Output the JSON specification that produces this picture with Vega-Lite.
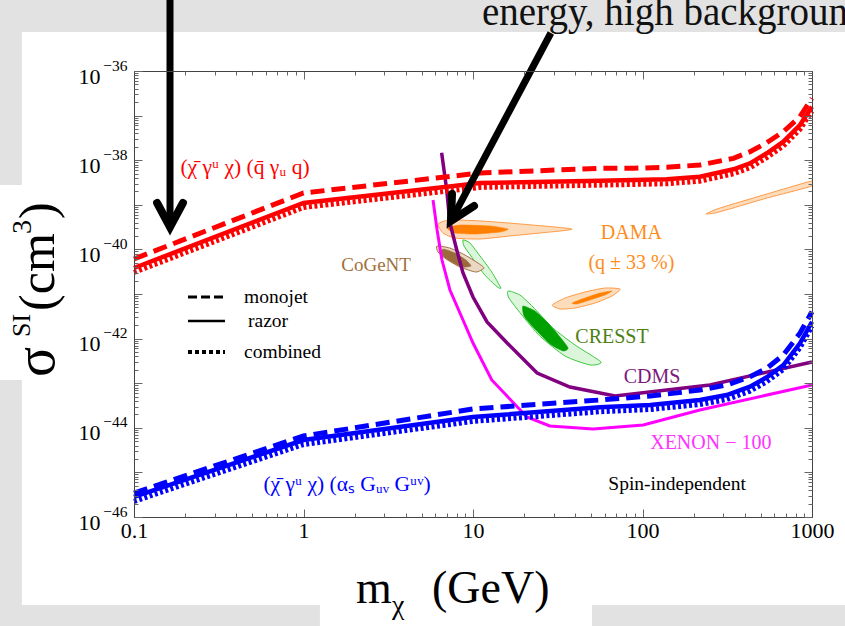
{
"$schema": "https://vega.github.io/schema/vega-lite/v6.json",
"width": 678, "height": 446,
"autosize": "none",
"padding": {"left": 134, "top": 71, "right": 33, "bottom": 109},
"background": "#e2e2e2",
"config": {
  "font": "Liberation Serif",
  "view": {"stroke": null},
  "axis": {"grid": false, "tickColor": "#666", "tickWidth": 1, "labelFont": "Liberation Serif", "labelColor": "#000", "labelFontSize": 22, "labelOverlap": false, "labelFlush": false, "labelBound": false, "domainColor": "#444", "domainWidth": 1}
},
"datasets": {
  "curves": [
    {"curve":"cdms","m":6.53,"sigma":1.47e-38},{"curve":"cdms","m":7.0,"sigma":2.15e-39},{"curve":"cdms","m":7.31,"sigma":3.91e-40},{"curve":"cdms","m":8.02,"sigma":9.7e-41},{"curve":"cdms","m":8.73,"sigma":2.96e-41},{"curve":"cdms","m":10,"sigma":8.57e-42},{"curve":"cdms","m":12.1,"sigma":2.36e-42},{"curve":"cdms","m":15.9,"sigma":7.96e-43},{"curve":"cdms","m":23.9,"sigma":1.69e-43},{"curve":"cdms","m":37.3,"sigma":8.22e-44},{"curve":"cdms","m":68.9,"sigma":5.16e-44},{"curve":"cdms","m":250,"sigma":9.12e-44},{"curve":"cdms","m":1000,"sigma":2.99e-43},
    {"curve":"xenon","m":5.81,"sigma":1.28e-39},{"curve":"xenon","m":6.14,"sigma":2.72e-40},{"curve":"xenon","m":6.56,"sigma":5.78e-41},{"curve":"xenon","m":7.31,"sigma":1.23e-41},{"curve":"xenon","m":8.73,"sigma":2.61e-42},{"curve":"xenon","m":10,"sigma":7.96e-43},{"curve":"xenon","m":12.9,"sigma":1.18e-43},{"curve":"xenon","m":20.8,"sigma":1.75e-44},{"curve":"xenon","m":28.4,"sigma":1.1e-44},{"curve":"xenon","m":51.1,"sigma":9.4e-45},{"curve":"xenon","m":101,"sigma":1.16e-44},{"curve":"xenon","m":218,"sigma":2.51e-44},{"curve":"xenon","m":1000,"sigma":9.12e-44},
    {"curve":"red_monojet","m":0.1,"sigma":6.1e-41},{"curve":"red_monojet","m":1,"sigma":1.84e-39},{"curve":"red_monojet","m":11,"sigma":5.16e-39},{"curve":"red_monojet","m":56.1,"sigma":6.58e-39},{"curve":"red_monojet","m":88.3,"sigma":6.6e-39},{"curve":"red_monojet","m":139,"sigma":6.93e-39},{"curve":"red_monojet","m":218,"sigma":7.8e-39},{"curve":"red_monojet","m":344,"sigma":1.1e-38},{"curve":"red_monojet","m":431,"sigma":1.55e-38},{"curve":"red_monojet","m":541,"sigma":2.47e-38},{"curve":"red_monojet","m":678,"sigma":4.36e-38},{"curve":"red_monojet","m":849,"sigma":9.44e-38},{"curve":"red_monojet","m":1000,"sigma":2.44e-37},
    {"curve":"red_razor","m":0.1,"sigma":3.83e-41},{"curve":"red_razor","m":1,"sigma":1.1e-39},{"curve":"red_razor","m":11,"sigma":3.08e-39},{"curve":"red_razor","m":56.1,"sigma":3.47e-39},{"curve":"red_razor","m":139,"sigma":3.73e-39},{"curve":"red_razor","m":218,"sigma":4.27e-39},{"curve":"red_razor","m":344,"sigma":6.25e-39},{"curve":"red_razor","m":431,"sigma":8.51e-39},{"curve":"red_razor","m":541,"sigma":1.43e-38},{"curve":"red_razor","m":678,"sigma":2.6e-38},{"curve":"red_razor","m":849,"sigma":6.15e-38},{"curve":"red_razor","m":1000,"sigma":1.58e-37},
    {"curve":"red_combined","m":0.1,"sigma":3.04e-41},{"curve":"red_combined","m":1,"sigma":8.7e-40},{"curve":"red_combined","m":11,"sigma":2.45e-39},{"curve":"red_combined","m":56.1,"sigma":2.76e-39},{"curve":"red_combined","m":139,"sigma":2.96e-39},{"curve":"red_combined","m":218,"sigma":3.39e-39},{"curve":"red_combined","m":344,"sigma":4.96e-39},{"curve":"red_combined","m":431,"sigma":6.76e-39},{"curve":"red_combined","m":541,"sigma":1.14e-38},{"curve":"red_combined","m":678,"sigma":2.07e-38},{"curve":"red_combined","m":849,"sigma":4.88e-38},{"curve":"red_combined","m":1000,"sigma":1.26e-37},
    {"curve":"blue_monojet","m":0.1,"sigma":3.45e-46},{"curve":"blue_monojet","m":1,"sigma":6.55e-45},{"curve":"blue_monojet","m":10,"sigma":2.64e-44},{"curve":"blue_monojet","m":56.1,"sigma":4.2e-44},{"curve":"blue_monojet","m":111,"sigma":5.16e-44},{"curve":"blue_monojet","m":218,"sigma":7.05e-44},{"curve":"blue_monojet","m":314,"sigma":9.12e-44},{"curve":"blue_monojet","m":431,"sigma":1.4e-43},{"curve":"blue_monojet","m":541,"sigma":2.16e-43},{"curve":"blue_monojet","m":678,"sigma":4.29e-43},{"curve":"blue_monojet","m":849,"sigma":1.32e-42},{"curve":"blue_monojet","m":1000,"sigma":4.01e-42},
    {"curve":"blue_razor","m":0.1,"sigma":2.81e-46},{"curve":"blue_razor","m":1,"sigma":5.32e-45},{"curve":"blue_razor","m":10,"sigma":1.75e-44},{"curve":"blue_razor","m":56.1,"sigma":2.88e-44},{"curve":"blue_razor","m":111,"sigma":3.24e-44},{"curve":"blue_razor","m":218,"sigma":4.2e-44},{"curve":"blue_razor","m":314,"sigma":5.43e-44},{"curve":"blue_razor","m":431,"sigma":8.36e-44},{"curve":"blue_razor","m":541,"sigma":1.36e-43},{"curve":"blue_razor","m":678,"sigma":2.56e-43},{"curve":"blue_razor","m":849,"sigma":7.83e-43},{"curve":"blue_razor","m":1000,"sigma":2.39e-42},
    {"curve":"blue_combined","m":0.1,"sigma":2.23e-46},{"curve":"blue_combined","m":1,"sigma":4.22e-45},{"curve":"blue_combined","m":10,"sigma":1.39e-44},{"curve":"blue_combined","m":56.1,"sigma":2.29e-44},{"curve":"blue_combined","m":111,"sigma":2.57e-44},{"curve":"blue_combined","m":218,"sigma":3.33e-44},{"curve":"blue_combined","m":314,"sigma":4.31e-44},{"curve":"blue_combined","m":431,"sigma":6.64e-44},{"curve":"blue_combined","m":541,"sigma":1.08e-43},{"curve":"blue_combined","m":678,"sigma":2.03e-43},{"curve":"blue_combined","m":849,"sigma":6.22e-43},{"curve":"blue_combined","m":1000,"sigma":1.9e-42}
  ],
  "blobs": [
    {"kind":"dama_out","shape":"d1","i":0,"m":6.22,"sigma":3.72e-40},{"kind":"dama_out","shape":"d1","i":1,"m":7.31,"sigma":4.56e-40},{"kind":"dama_out","shape":"d1","i":2,"m":11.0,"sigma":4.34e-40},{"kind":"dama_out","shape":"d1","i":3,"m":18.9,"sigma":3.72e-40},{"kind":"dama_out","shape":"d1","i":4,"m":38.4,"sigma":2.86e-40},{"kind":"dama_out","shape":"d1","i":5,"m":24.8,"sigma":2.33e-40},{"kind":"dama_out","shape":"d1","i":6,"m":16.5,"sigma":2.0e-40},{"kind":"dama_out","shape":"d1","i":7,"m":11.0,"sigma":1.71e-40},{"kind":"dama_out","shape":"d1","i":8,"m":7.83,"sigma":1.8e-40},{"kind":"dama_out","shape":"d1","i":9,"m":6.65,"sigma":2.33e-40},
    {"kind":"dama_out","shape":"d2","i":0,"m":29.3,"sigma":5.66e-42},{"kind":"dama_out","shape":"d2","i":1,"m":34.9,"sigma":8.13e-42},{"kind":"dama_out","shape":"d2","i":2,"m":45.8,"sigma":1.11e-41},{"kind":"dama_out","shape":"d2","i":3,"m":60.1,"sigma":1.36e-41},{"kind":"dama_out","shape":"d2","i":4,"m":73.7,"sigma":1.29e-41},{"kind":"dama_out","shape":"d2","i":5,"m":66.1,"sigma":9.02e-42},{"kind":"dama_out","shape":"d2","i":6,"m":52.5,"sigma":6.28e-42},{"kind":"dama_out","shape":"d2","i":7,"m":40.0,"sigma":4.85e-42},{"kind":"dama_out","shape":"d2","i":8,"m":32.6,"sigma":4.61e-42},
    {"kind":"dama_out","shape":"d3","i":0,"m":237,"sigma":6.22e-40},{"kind":"dama_out","shape":"d3","i":1,"m":268,"sigma":6.55e-40},{"kind":"dama_out","shape":"d3","i":2,"m":342,"sigma":8.47e-40},{"kind":"dama_out","shape":"d3","i":3,"m":543,"sigma":1.42e-39},{"kind":"dama_out","shape":"d3","i":4,"m":1000,"sigma":2.64e-39},{"kind":"dama_out","shape":"d3","i":5,"m":1000,"sigma":3.42e-39},{"kind":"dama_out","shape":"d3","i":6,"m":543,"sigma":1.75e-39},{"kind":"dama_out","shape":"d3","i":7,"m":342,"sigma":1.04e-39},{"kind":"dama_out","shape":"d3","i":8,"m":275,"sigma":8.05e-40},{"kind":"dama_out","shape":"d3","i":9,"m":250,"sigma":6.9e-40},
    {"kind":"dama_in","shape":"d1in","i":0,"m":7.03,"sigma":3.02e-40},{"kind":"dama_in","shape":"d1in","i":1,"m":8.38,"sigma":3.52e-40},{"kind":"dama_in","shape":"d1in","i":2,"m":12.6,"sigma":3.35e-40},{"kind":"dama_in","shape":"d1in","i":3,"m":16.1,"sigma":2.86e-40},{"kind":"dama_in","shape":"d1in","i":4,"m":14.4,"sigma":2.45e-40},{"kind":"dama_in","shape":"d1in","i":5,"m":10.3,"sigma":2.21e-40},{"kind":"dama_in","shape":"d1in","i":6,"m":7.83,"sigma":2.33e-40},
    {"kind":"dama_in","shape":"d2in","i":0,"m":38.4,"sigma":6.28e-42},{"kind":"dama_in","shape":"d2in","i":1,"m":45.8,"sigma":8.13e-42},{"kind":"dama_in","shape":"d2in","i":2,"m":56.1,"sigma":1.05e-41},{"kind":"dama_in","shape":"d2in","i":3,"m":66.1,"sigma":1.17e-41},{"kind":"dama_in","shape":"d2in","i":4,"m":60.1,"sigma":9.5e-42},{"kind":"dama_in","shape":"d2in","i":5,"m":49.0,"sigma":7.33e-42},{"kind":"dama_in","shape":"d2in","i":6,"m":41.1,"sigma":5.97e-42},
    {"kind":"cogent_out","shape":"g1","i":0,"m":6.13,"sigma":1.19e-40},{"kind":"cogent_out","shape":"g1","i":1,"m":7.31,"sigma":1.07e-40},{"kind":"cogent_out","shape":"g1","i":2,"m":8.97,"sigma":7.48e-41},{"kind":"cogent_out","shape":"g1","i":3,"m":10.7,"sigma":4.95e-41},{"kind":"cogent_out","shape":"g1","i":4,"m":11.6,"sigma":3.83e-41},{"kind":"cogent_out","shape":"g1","i":5,"m":10.4,"sigma":3.11e-41},{"kind":"cogent_out","shape":"g1","i":6,"m":8.38,"sigma":4.03e-41},{"kind":"cogent_out","shape":"g1","i":7,"m":6.93,"sigma":6.1e-41},{"kind":"cogent_out","shape":"g1","i":8,"m":6.22,"sigma":8.75e-41},
    {"kind":"cogent_in","shape":"g1in","i":0,"m":6.65,"sigma":1.02e-40},{"kind":"cogent_in","shape":"g1in","i":1,"m":7.83,"sigma":8.3e-41},{"kind":"cogent_in","shape":"g1in","i":2,"m":9.09,"sigma":5.78e-41},{"kind":"cogent_in","shape":"g1in","i":3,"m":9.73,"sigma":4.25e-41},{"kind":"cogent_in","shape":"g1in","i":4,"m":8.61,"sigma":4.03e-41},{"kind":"cogent_in","shape":"g1in","i":5,"m":7.31,"sigma":5.5e-41},{"kind":"cogent_in","shape":"g1in","i":6,"m":6.56,"sigma":7.48e-41},
    {"kind":"cresst_out","shape":"c1","i":0,"m":8.73,"sigma":1.63e-40},{"kind":"cresst_out","shape":"c1","i":1,"m":9.6,"sigma":1.39e-40},{"kind":"cresst_out","shape":"c1","i":2,"m":11.0,"sigma":7.11e-41},{"kind":"cresst_out","shape":"c1","i":3,"m":12.9,"sigma":3.11e-41},{"kind":"cresst_out","shape":"c1","i":4,"m":14.6,"sigma":1.36e-41},{"kind":"cresst_out","shape":"c1","i":5,"m":13.7,"sigma":1.51e-41},{"kind":"cresst_out","shape":"c1","i":6,"m":11.6,"sigma":2.81e-41},{"kind":"cresst_out","shape":"c1","i":7,"m":9.73,"sigma":7.11e-41},{"kind":"cresst_out","shape":"c1","i":8,"m":8.85,"sigma":1.19e-40},
    {"kind":"cresst_out","shape":"c2","i":0,"m":16.1,"sigma":1.17e-41},{"kind":"cresst_out","shape":"c2","i":1,"m":18.9,"sigma":9.5e-42},{"kind":"cresst_out","shape":"c2","i":2,"m":22.6,"sigma":5.12e-42},{"kind":"cresst_out","shape":"c2","i":3,"m":29.6,"sigma":1.73e-42},{"kind":"cresst_out","shape":"c2","i":4,"m":40.0,"sigma":7.19e-43},{"kind":"cresst_out","shape":"c2","i":5,"m":56.9,"sigma":2.99e-43},{"kind":"cresst_out","shape":"c2","i":6,"m":49.0,"sigma":2.56e-43},{"kind":"cresst_out","shape":"c2","i":7,"m":34.9,"sigma":4.07e-43},{"kind":"cresst_out","shape":"c2","i":8,"m":24.8,"sigma":1.14e-42},{"kind":"cresst_out","shape":"c2","i":9,"m":19.2,"sigma":3.56e-42},{"kind":"cresst_out","shape":"c2","i":10,"m":16.3,"sigma":8.13e-42},
    {"kind":"cresst_in","shape":"c2in","i":0,"m":19.7,"sigma":5.38e-42},{"kind":"cresst_in","shape":"c2in","i":1,"m":23.2,"sigma":4.16e-42},{"kind":"cresst_in","shape":"c2in","i":2,"m":27.7,"sigma":2.24e-42},{"kind":"cresst_in","shape":"c2in","i":3,"m":32.6,"sigma":1.09e-42},{"kind":"cresst_in","shape":"c2in","i":4,"m":36.4,"sigma":6.15e-43},{"kind":"cresst_in","shape":"c2in","i":5,"m":34.0,"sigma":5.27e-43},{"kind":"cresst_in","shape":"c2in","i":6,"m":28.5,"sigma":7.57e-43},{"kind":"cresst_in","shape":"c2in","i":7,"m":22.9,"sigma":1.73e-42},{"kind":"cresst_in","shape":"c2in","i":8,"m":20.0,"sigma":3.21e-42}
  ],
  "arrows": [
    {"part":"v_shaft","i":0,"m":0.1631,"sigma":1e-34},{"part":"v_shaft","i":1,"m":0.1631,"sigma":3.18e-40},
    {"part":"v_head","i":0,"m":0.1368,"sigma":1.1e-39},{"part":"v_head","i":1,"m":0.1631,"sigma":3.18e-40},{"part":"v_head","i":2,"m":0.1945,"sigma":1.1e-39},
    {"part":"d_shaft","i":0,"m":28.8,"sigma":7.11e-36},{"part":"d_shaft","i":1,"m":7.41,"sigma":4.34e-40},
    {"part":"d_head","i":0,"m":7.52,"sigma":1.75e-39},{"part":"d_head","i":1,"m":7.41,"sigma":4.34e-40},{"part":"d_head","i":2,"m":10.14,"sigma":9.4e-40}
  ],
  "legend": [
    {"style":"monojet","m":0.2083,"sigma":8.57e-42},{"style":"monojet","m":0.3441,"sigma":8.57e-42},
    {"style":"razor","m":0.2083,"sigma":2.48e-42},{"style":"razor","m":0.3441,"sigma":2.48e-42},
    {"style":"combined","m":0.2083,"sigma":5.01e-43},{"style":"combined","m":0.3441,"sigma":5.01e-43}
  ]
},
"resolve": {"scale": {"x": "shared", "y": "shared"}, "axis": {"x": "independent", "y": "independent"}},
"layer": [
  {
    "data": {"values": [
      {"m": 0.0218, "m2": 2000, "sigma": 7.48e-36, "sigma2": 1.06e-48},
      {"m": 0.0141, "m2": 0.229, "sigma": 2.78e-39, "sigma2": 1.18e-43},
      {"m": 1.25, "m2": 50.4, "sigma": 1.09e-47, "sigma2": 1.75e-49}
    ]},
    "mark": {"type": "rect", "fill": "#ffffff", "stroke": null},
    "encoding": {
      "x": {"field": "m", "type": "quantitative", "scale": {"type": "log", "domain": [0.1, 1000], "nice": false}, "axis": null},
      "x2": {"field": "m2"},
      "y": {"field": "sigma", "type": "quantitative", "scale": {"type": "log", "domain": [1e-46, 1e-36], "nice": false}, "axis": null},
      "y2": {"field": "sigma2"}
    }
  },
  {
    "data": {"name": "blobs"},
    "transform": [{"filter": "datum.kind == 'dama_out'"}],
    "mark": {"type": "line", "interpolate": "cardinal-closed", "tension": 0.4, "fill": "#fddcbc", "stroke": "#ff9a45", "strokeWidth": 1, "clip": true},
    "encoding": {
      "x": {"field": "m", "type": "quantitative", "scale": {"type": "log", "domain": [0.1, 1000], "nice": false}, "axis": null},
      "y": {"field": "sigma", "type": "quantitative", "scale": {"type": "log", "domain": [1e-46, 1e-36], "nice": false}, "axis": null},
      "detail": {"field": "shape"},
      "order": {"field": "i", "type": "quantitative"}
    }
  },
  {
    "data": {"name": "blobs"},
    "transform": [{"filter": "datum.kind == 'dama_in'"}],
    "mark": {"type": "line", "interpolate": "cardinal-closed", "tension": 0.4, "fill": "#ff8000", "stroke": "#ff8000", "strokeWidth": 0.5},
    "encoding": {
      "x": {"field": "m", "type": "quantitative", "scale": {"type": "log", "domain": [0.1, 1000], "nice": false}, "axis": null},
      "y": {"field": "sigma", "type": "quantitative", "scale": {"type": "log", "domain": [1e-46, 1e-36], "nice": false}, "axis": null},
      "detail": {"field": "shape"},
      "order": {"field": "i", "type": "quantitative"}
    }
  },
  {
    "data": {"name": "blobs"},
    "transform": [{"filter": "datum.kind == 'cresst_out'"}],
    "mark": {"type": "line", "interpolate": "cardinal-closed", "tension": 0.4, "fill": "#dcf6dc", "stroke": "#3cc83c", "strokeWidth": 1},
    "encoding": {
      "x": {"field": "m", "type": "quantitative", "scale": {"type": "log", "domain": [0.1, 1000], "nice": false}, "axis": null},
      "y": {"field": "sigma", "type": "quantitative", "scale": {"type": "log", "domain": [1e-46, 1e-36], "nice": false}, "axis": null},
      "detail": {"field": "shape"},
      "order": {"field": "i", "type": "quantitative"}
    }
  },
  {
    "data": {"name": "blobs"},
    "transform": [{"filter": "datum.kind == 'cresst_in'"}],
    "mark": {"type": "line", "interpolate": "cardinal-closed", "tension": 0.4, "fill": "#00a000", "stroke": "#00a000", "strokeWidth": 0.5},
    "encoding": {
      "x": {"field": "m", "type": "quantitative", "scale": {"type": "log", "domain": [0.1, 1000], "nice": false}, "axis": null},
      "y": {"field": "sigma", "type": "quantitative", "scale": {"type": "log", "domain": [1e-46, 1e-36], "nice": false}, "axis": null},
      "detail": {"field": "shape"},
      "order": {"field": "i", "type": "quantitative"}
    }
  },
  {
    "data": {"name": "blobs"},
    "transform": [{"filter": "datum.kind == 'cogent_out'"}],
    "mark": {"type": "line", "interpolate": "cardinal-closed", "tension": 0.4, "fill": "#ead7c4", "stroke": "#a0703c", "strokeWidth": 1},
    "encoding": {
      "x": {"field": "m", "type": "quantitative", "scale": {"type": "log", "domain": [0.1, 1000], "nice": false}, "axis": null},
      "y": {"field": "sigma", "type": "quantitative", "scale": {"type": "log", "domain": [1e-46, 1e-36], "nice": false}, "axis": null},
      "detail": {"field": "shape"},
      "order": {"field": "i", "type": "quantitative"}
    }
  },
  {
    "data": {"name": "blobs"},
    "transform": [{"filter": "datum.kind == 'cogent_in'"}],
    "mark": {"type": "line", "interpolate": "cardinal-closed", "tension": 0.4, "fill": "#9b6a3a", "stroke": "#9b6a3a", "strokeWidth": 0.5},
    "encoding": {
      "x": {"field": "m", "type": "quantitative", "scale": {"type": "log", "domain": [0.1, 1000], "nice": false}, "axis": null},
      "y": {"field": "sigma", "type": "quantitative", "scale": {"type": "log", "domain": [1e-46, 1e-36], "nice": false}, "axis": null},
      "detail": {"field": "shape"},
      "order": {"field": "i", "type": "quantitative"}
    }
  },
  {
    "data": {"name": "curves"},
    "transform": [{"filter": "datum.curve == 'xenon'"}],
    "mark": {"type": "line", "color": "#ff00ff", "strokeWidth": 3},
    "encoding": {
      "x": {"field": "m", "type": "quantitative", "scale": {"type": "log", "domain": [0.1, 1000], "nice": false}, "axis": null},
      "y": {"field": "sigma", "type": "quantitative", "scale": {"type": "log", "domain": [1e-46, 1e-36], "nice": false}, "axis": null}
    }
  },
  {
    "data": {"name": "curves"},
    "transform": [{"filter": "datum.curve == 'cdms'"}],
    "mark": {"type": "line", "color": "#800080", "strokeWidth": 3.5},
    "encoding": {
      "x": {"field": "m", "type": "quantitative", "scale": {"type": "log", "domain": [0.1, 1000], "nice": false}, "axis": null},
      "y": {"field": "sigma", "type": "quantitative", "scale": {"type": "log", "domain": [1e-46, 1e-36], "nice": false}, "axis": null}
    }
  },
  {
    "data": {"name": "curves"},
    "transform": [{"filter": "datum.curve == 'red_combined'"}],
    "mark": {"type": "line", "color": "#ff0000", "strokeWidth": 5, "strokeDash": [3, 2.5]},
    "encoding": {
      "x": {"field": "m", "type": "quantitative", "scale": {"type": "log", "domain": [0.1, 1000], "nice": false},
            "axis": {"orient": "bottom", "zindex": 2, "domain": true, "title": null, "values": [0.1, 1, 10, 100, 1000], "tickSize": -8, "labelPadding": 11, "labelFontSize": 22, "labelExpr": "'' + datum.value"}},
      "y": {"field": "sigma", "type": "quantitative", "scale": {"type": "log", "domain": [1e-46, 1e-36], "nice": false},
            "axis": {"orient": "left", "zindex": 2, "domain": true, "title": null, "values": [1e-46, 1e-45, 1e-44, 1e-43, 1e-42, 1e-41, 1e-40, 1e-39, 1e-38, 1e-37, 1e-36], "tickSize": -8, "labelPadding": 42, "labelOffset": 5, "labelFontSize": 22,
                     "labelExpr": "round(log(datum.value)/LN10) % 2 == 0 ? '10' : ''"}}
    }
  },
  {
    "data": {"name": "curves"},
    "transform": [{"filter": "datum.curve == 'red_razor'"}],
    "mark": {"type": "line", "color": "#ff0000", "strokeWidth": 4.5},
    "encoding": {
      "x": {"field": "m", "type": "quantitative", "scale": {"type": "log", "domain": [0.1, 1000], "nice": false},
            "axis": {"orient": "bottom", "zindex": 2, "domain": false, "title": null, "values": [0.2,0.3,0.4,0.5,0.6,0.7,0.8,0.9,2,3,4,5,6,7,8,9,20,30,40,50,60,70,80,90,200,300,400,500,600,700,800,900], "tickSize": -4, "labels": false}},
      "y": {"field": "sigma", "type": "quantitative", "scale": {"type": "log", "domain": [1e-46, 1e-36], "nice": false},
            "axis": {"orient": "left", "zindex": 2, "domain": false, "title": null, "values": [2e-46,3e-46,4e-46,5e-46,6e-46,7e-46,8e-46,9e-46,2e-45,3e-45,4e-45,5e-45,6e-45,7e-45,8e-45,9e-45,2e-44,3e-44,4e-44,5e-44,6e-44,7e-44,8e-44,9e-44,2e-43,3e-43,4e-43,5e-43,6e-43,7e-43,8e-43,9e-43,2e-42,3e-42,4e-42,5e-42,6e-42,7e-42,8e-42,9e-42,2e-41,3e-41,4e-41,5e-41,6e-41,7e-41,8e-41,9e-41,2e-40,3e-40,4e-40,5e-40,6e-40,7e-40,8e-40,9e-40,2e-39,3e-39,4e-39,5e-39,6e-39,7e-39,8e-39,9e-39,2e-38,3e-38,4e-38,5e-38,6e-38,7e-38,8e-38,9e-38,2e-37,3e-37,4e-37,5e-37,6e-37,7e-37,8e-37,9e-37], "tickSize": -4, "labels": false}}
    }
  },
  {
    "data": {"name": "curves"},
    "transform": [{"filter": "datum.curve == 'red_monojet'"}],
    "mark": {"type": "line", "color": "#ff0000", "strokeWidth": 5, "strokeDash": [14, 7]},
    "encoding": {
      "x": {"field": "m", "type": "quantitative", "scale": {"type": "log", "domain": [0.1, 1000], "nice": false},
            "axis": {"orient": "top", "zindex": 2, "domain": true, "title": null, "values": [0.1, 1, 10, 100, 1000], "tickSize": -8, "labels": false}},
      "y": {"field": "sigma", "type": "quantitative", "scale": {"type": "log", "domain": [1e-46, 1e-36], "nice": false},
            "axis": {"orient": "right", "zindex": 2, "domain": true, "title": null, "values": [1e-46, 1e-45, 1e-44, 1e-43, 1e-42, 1e-41, 1e-40, 1e-39, 1e-38, 1e-37, 1e-36], "tickSize": -8, "labels": false}}
    }
  },
  {
    "data": {"name": "curves"},
    "transform": [{"filter": "datum.curve == 'blue_combined'"}],
    "mark": {"type": "line", "color": "#0000ff", "strokeWidth": 5, "strokeDash": [3, 2.5]},
    "encoding": {
      "x": {"field": "m", "type": "quantitative", "scale": {"type": "log", "domain": [0.1, 1000], "nice": false},
            "axis": {"orient": "top", "zindex": 2, "domain": false, "title": null, "values": [0.2,0.3,0.4,0.5,0.6,0.7,0.8,0.9,2,3,4,5,6,7,8,9,20,30,40,50,60,70,80,90,200,300,400,500,600,700,800,900], "tickSize": -4, "labels": false}},
      "y": {"field": "sigma", "type": "quantitative", "scale": {"type": "log", "domain": [1e-46, 1e-36], "nice": false},
            "axis": {"orient": "right", "zindex": 2, "domain": false, "title": null, "values": [2e-46,3e-46,4e-46,5e-46,6e-46,7e-46,8e-46,9e-46,2e-45,3e-45,4e-45,5e-45,6e-45,7e-45,8e-45,9e-45,2e-44,3e-44,4e-44,5e-44,6e-44,7e-44,8e-44,9e-44,2e-43,3e-43,4e-43,5e-43,6e-43,7e-43,8e-43,9e-43,2e-42,3e-42,4e-42,5e-42,6e-42,7e-42,8e-42,9e-42,2e-41,3e-41,4e-41,5e-41,6e-41,7e-41,8e-41,9e-41,2e-40,3e-40,4e-40,5e-40,6e-40,7e-40,8e-40,9e-40,2e-39,3e-39,4e-39,5e-39,6e-39,7e-39,8e-39,9e-39,2e-38,3e-38,4e-38,5e-38,6e-38,7e-38,8e-38,9e-38,2e-37,3e-37,4e-37,5e-37,6e-37,7e-37,8e-37,9e-37], "tickSize": -4, "labels": false}}
    }
  },
  {
    "data": {"name": "curves"},
    "transform": [{"filter": "datum.curve == 'blue_razor'"}],
    "mark": {"type": "line", "color": "#0000ff", "strokeWidth": 4.5},
    "encoding": {
      "x": {"field": "m", "type": "quantitative", "scale": {"type": "log", "domain": [0.1, 1000], "nice": false}, "axis": null},
      "y": {"field": "sigma", "type": "quantitative", "scale": {"type": "log", "domain": [1e-46, 1e-36], "nice": false},
            "axis": {"orient": "left", "zindex": 2, "domain": false, "ticks": false, "title": null, "values": [1e-46, 1e-44, 1e-42, 1e-40, 1e-38, 1e-36], "labelPadding": 7, "labelOffset": -6, "labelFontSize": 15.5,
                     "labelExpr": "'−' + toString(-round(log(datum.value)/LN10))"}}
    }
  },
  {
    "data": {"name": "curves"},
    "transform": [{"filter": "datum.curve == 'blue_monojet'"}],
    "mark": {"type": "line", "color": "#0000ff", "strokeWidth": 5, "strokeDash": [14, 7]},
    "encoding": {
      "x": {"field": "m", "type": "quantitative", "scale": {"type": "log", "domain": [0.1, 1000], "nice": false}, "axis": null},
      "y": {"field": "sigma", "type": "quantitative", "scale": {"type": "log", "domain": [1e-46, 1e-36], "nice": false}, "axis": null}
    }
  },
  {
    "data": {"name": "legend"},
    "transform": [{"filter": "datum.style == 'monojet'"}],
    "mark": {"type": "line", "color": "#000", "strokeWidth": 3, "strokeDash": [9, 4]},
    "encoding": {
      "x": {"field": "m", "type": "quantitative", "scale": {"type": "log", "domain": [0.1, 1000], "nice": false}, "axis": null},
      "y": {"field": "sigma", "type": "quantitative", "scale": {"type": "log", "domain": [1e-46, 1e-36], "nice": false}, "axis": null}
    }
  },
  {
    "data": {"name": "legend"},
    "transform": [{"filter": "datum.style == 'razor'"}],
    "mark": {"type": "line", "color": "#000", "strokeWidth": 2.5},
    "encoding": {
      "x": {"field": "m", "type": "quantitative", "scale": {"type": "log", "domain": [0.1, 1000], "nice": false}, "axis": null},
      "y": {"field": "sigma", "type": "quantitative", "scale": {"type": "log", "domain": [1e-46, 1e-36], "nice": false}, "axis": null}
    }
  },
  {
    "data": {"name": "legend"},
    "transform": [{"filter": "datum.style == 'combined'"}],
    "mark": {"type": "line", "color": "#000", "strokeWidth": 4, "strokeDash": [4, 3]},
    "encoding": {
      "x": {"field": "m", "type": "quantitative", "scale": {"type": "log", "domain": [0.1, 1000], "nice": false}, "axis": null},
      "y": {"field": "sigma", "type": "quantitative", "scale": {"type": "log", "domain": [1e-46, 1e-36], "nice": false}, "axis": null}
    }
  },
  {
    "data": {"values": [{"label": "monojet", "m": 0.446, "sigma": 8.57e-42}, {"label": "razor", "m": 0.4707, "sigma": 2.48e-42}, {"label": "combined", "m": 0.446, "sigma": 5.01e-43}]},
    "mark": {"type": "text", "align": "left", "baseline": "middle", "fontSize": 19.5, "color": "#000"},
    "encoding": {
      "x": {"field": "m", "type": "quantitative", "scale": {"type": "log", "domain": [0.1, 1000], "nice": false}, "axis": null},
      "y": {"field": "sigma", "type": "quantitative", "scale": {"type": "log", "domain": [1e-46, 1e-36], "nice": false}, "axis": null},
      "text": {"field": "label"}
    }
  },
  {
    "data": {"values": [{"label": "DAMA", "m": 86, "sigma": 2.33e-40}, {"label": "(q ± 33 %)", "m": 86, "sigma": 4.95e-41}]},
    "mark": {"type": "text", "align": "center", "baseline": "middle", "fontSize": 20, "color": "#ff8c1a"},
    "encoding": {
      "x": {"field": "m", "type": "quantitative", "scale": {"type": "log", "domain": [0.1, 1000], "nice": false}, "axis": null},
      "y": {"field": "sigma", "type": "quantitative", "scale": {"type": "log", "domain": [1e-46, 1e-36], "nice": false}, "axis": null},
      "text": {"field": "label"}
    }
  },
  {
    "data": {"values": [{"label": "CoGeNT", "m": 2.68, "sigma": 4.47e-41}]},
    "mark": {"type": "text", "align": "center", "baseline": "middle", "fontSize": 19, "color": "#a0703c"},
    "encoding": {
      "x": {"field": "m", "type": "quantitative", "scale": {"type": "log", "domain": [0.1, 1000], "nice": false}, "axis": null},
      "y": {"field": "sigma", "type": "quantitative", "scale": {"type": "log", "domain": [1e-46, 1e-36], "nice": false}, "axis": null},
      "text": {"field": "label"}
    }
  },
  {
    "data": {"values": [{"label": "CRESST", "m": 66.1, "sigma": 1.09e-42}]},
    "mark": {"type": "text", "align": "center", "baseline": "middle", "fontSize": 20, "color": "#4d7f15"},
    "encoding": {
      "x": {"field": "m", "type": "quantitative", "scale": {"type": "log", "domain": [0.1, 1000], "nice": false}, "axis": null},
      "y": {"field": "sigma", "type": "quantitative", "scale": {"type": "log", "domain": [1e-46, 1e-36], "nice": false}, "axis": null},
      "text": {"field": "label"}
    }
  },
  {
    "data": {"values": [{"label": "CDMS", "m": 113.8, "sigma": 1.38e-43}]},
    "mark": {"type": "text", "align": "center", "baseline": "middle", "fontSize": 20, "color": "#7b1a7b"},
    "encoding": {
      "x": {"field": "m", "type": "quantitative", "scale": {"type": "log", "domain": [0.1, 1000], "nice": false}, "axis": null},
      "y": {"field": "sigma", "type": "quantitative", "scale": {"type": "log", "domain": [1e-46, 1e-36], "nice": false}, "axis": null},
      "text": {"field": "label"}
    }
  },
  {
    "data": {"values": [{"label": "XENON − 100", "m": 253, "sigma": 4.56e-45}]},
    "mark": {"type": "text", "align": "center", "baseline": "middle", "fontSize": 20, "color": "#ff33ff"},
    "encoding": {
      "x": {"field": "m", "type": "quantitative", "scale": {"type": "log", "domain": [0.1, 1000], "nice": false}, "axis": null},
      "y": {"field": "sigma", "type": "quantitative", "scale": {"type": "log", "domain": [1e-46, 1e-36], "nice": false}, "axis": null},
      "text": {"field": "label"}
    }
  },
  {
    "data": {"values": [{"label": "Spin-independent", "m": 160, "sigma": 5.5e-46}]},
    "mark": {"type": "text", "align": "center", "baseline": "middle", "fontSize": 19.5, "color": "#000"},
    "encoding": {
      "x": {"field": "m", "type": "quantitative", "scale": {"type": "log", "domain": [0.1, 1000], "nice": false}, "axis": null},
      "y": {"field": "sigma", "type": "quantitative", "scale": {"type": "log", "domain": [1e-46, 1e-36], "nice": false}, "axis": null},
      "text": {"field": "label"}
    }
  },
  {
    "data": {"values": [{"label": "(χ̄ γᵘ χ) (q̄ γᵤ q)", "m": 0.452, "sigma": 6.68e-39}]},
    "mark": {"type": "text", "align": "center", "baseline": "middle", "fontSize": 21.5, "color": "#ff0000"},
    "encoding": {
      "x": {"field": "m", "type": "quantitative", "scale": {"type": "log", "domain": [0.1, 1000], "nice": false}, "axis": null},
      "y": {"field": "sigma", "type": "quantitative", "scale": {"type": "log", "domain": [1e-46, 1e-36], "nice": false}, "axis": null},
      "text": {"field": "label"}
    }
  },
  {
    "data": {"values": [{"label": "(χ̄ γᵘ χ) (αₛ Gᵤᵥ Gᵘᵛ)", "m": 1.806, "sigma": 5.21e-46}]},
    "mark": {"type": "text", "align": "center", "baseline": "middle", "fontSize": 21.5, "color": "#0000ff"},
    "encoding": {
      "x": {"field": "m", "type": "quantitative", "scale": {"type": "log", "domain": [0.1, 1000], "nice": false}, "axis": null},
      "y": {"field": "sigma", "type": "quantitative", "scale": {"type": "log", "domain": [1e-46, 1e-36], "nice": false}, "axis": null},
      "text": {"field": "label"}
    }
  },
  {
    "data": {"name": "arrows"},
    "transform": [{"filter": "datum.part == 'v_shaft' || datum.part == 'd_shaft'"}],
    "mark": {"type": "line", "color": "#000", "strokeWidth": 7, "strokeCap": "butt"},
    "encoding": {
      "x": {"field": "m", "type": "quantitative", "scale": {"type": "log", "domain": [0.1, 1000], "nice": false}, "axis": null},
      "y": {"field": "sigma", "type": "quantitative", "scale": {"type": "log", "domain": [1e-46, 1e-36], "nice": false}, "axis": null},
      "detail": {"field": "part"},
      "order": {"field": "i", "type": "quantitative"}
    }
  },
  {
    "data": {"name": "arrows"},
    "transform": [{"filter": "datum.part == 'v_head' || datum.part == 'd_head'"}],
    "mark": {"type": "line", "color": "#000", "strokeWidth": 8, "strokeCap": "round", "strokeJoin": "miter"},
    "encoding": {
      "x": {"field": "m", "type": "quantitative", "scale": {"type": "log", "domain": [0.1, 1000], "nice": false}, "axis": null},
      "y": {"field": "sigma", "type": "quantitative", "scale": {"type": "log", "domain": [1e-46, 1e-36], "nice": false}, "axis": null},
      "detail": {"field": "part"},
      "order": {"field": "i", "type": "quantitative"}
    }
  },
  {
    "data": {"values": [{"label": "energy, high background", "m": 11.3, "sigma": 1.07e-35}]},
    "mark": {"type": "text", "align": "left", "baseline": "alphabetic", "fontSize": 39, "color": "#111"},
    "encoding": {
      "x": {"field": "m", "type": "quantitative", "scale": {"type": "log", "domain": [0.1, 1000], "nice": false}, "axis": null},
      "y": {"field": "sigma", "type": "quantitative", "scale": {"type": "log", "domain": [1e-46, 1e-36], "nice": false}, "axis": null},
      "text": {"field": "label"}
    }
  },
  {
    "data": {"values": [{"label": "σ", "m": 0.03373, "sigma": 1.38e-43}]},
    "mark": {"type": "text", "align": "left", "baseline": "alphabetic", "angle": 270, "fontSize": 56, "color": "#000"},
    "encoding": {
      "x": {"field": "m", "type": "quantitative", "scale": {"type": "log", "domain": [0.1, 1000], "nice": false}, "axis": null},
      "y": {"field": "sigma", "type": "quantitative", "scale": {"type": "log", "domain": [1e-46, 1e-36], "nice": false}, "axis": null},
      "text": {"field": "label"}
    }
  },
  {
    "data": {"values": [{"label": "SI", "m": 0.03373, "sigma": 1.38e-43}]},
    "mark": {"type": "text", "align": "left", "baseline": "alphabetic", "angle": 270, "fontSize": 26, "dx": 40, "dy": -24, "color": "#000"},
    "encoding": {
      "x": {"field": "m", "type": "quantitative", "scale": {"type": "log", "domain": [0.1, 1000], "nice": false}, "axis": null},
      "y": {"field": "sigma", "type": "quantitative", "scale": {"type": "log", "domain": [1e-46, 1e-36], "nice": false}, "axis": null},
      "text": {"field": "label"}
    }
  },
  {
    "data": {"values": [{"label": "(cm", "m": 0.03373, "sigma": 1.38e-43}]},
    "mark": {"type": "text", "align": "left", "baseline": "alphabetic", "angle": 270, "fontSize": 50, "dx": 66, "color": "#000"},
    "encoding": {
      "x": {"field": "m", "type": "quantitative", "scale": {"type": "log", "domain": [0.1, 1000], "nice": false}, "axis": null},
      "y": {"field": "sigma", "type": "quantitative", "scale": {"type": "log", "domain": [1e-46, 1e-36], "nice": false}, "axis": null},
      "text": {"field": "label"}
    }
  },
  {
    "data": {"values": [{"label": "3", "m": 0.03373, "sigma": 1.38e-43}]},
    "mark": {"type": "text", "align": "left", "baseline": "alphabetic", "angle": 270, "fontSize": 28, "dx": 143, "dy": -23, "color": "#000"},
    "encoding": {
      "x": {"field": "m", "type": "quantitative", "scale": {"type": "log", "domain": [0.1, 1000], "nice": false}, "axis": null},
      "y": {"field": "sigma", "type": "quantitative", "scale": {"type": "log", "domain": [1e-46, 1e-36], "nice": false}, "axis": null},
      "text": {"field": "label"}
    }
  },
  {
    "data": {"values": [{"label": ")", "m": 0.03373, "sigma": 1.38e-43}]},
    "mark": {"type": "text", "align": "left", "baseline": "alphabetic", "angle": 270, "fontSize": 50, "dx": 158, "color": "#000"},
    "encoding": {
      "x": {"field": "m", "type": "quantitative", "scale": {"type": "log", "domain": [0.1, 1000], "nice": false}, "axis": null},
      "y": {"field": "sigma", "type": "quantitative", "scale": {"type": "log", "domain": [1e-46, 1e-36], "nice": false}, "axis": null},
      "text": {"field": "label"}
    }
  },
  {
    "data": {"values": [{"label": "m", "m": 2.04, "sigma": 1.18e-48}]},
    "mark": {"type": "text", "align": "left", "baseline": "alphabetic", "fontSize": 46, "color": "#000"},
    "encoding": {
      "x": {"field": "m", "type": "quantitative", "scale": {"type": "log", "domain": [0.1, 1000], "nice": false}, "axis": null},
      "y": {"field": "sigma", "type": "quantitative", "scale": {"type": "log", "domain": [1e-46, 1e-36], "nice": false}, "axis": null},
      "text": {"field": "label"}
    }
  },
  {
    "data": {"values": [{"label": "χ", "m": 2.04, "sigma": 1.18e-48}]},
    "mark": {"type": "text", "align": "left", "baseline": "alphabetic", "fontSize": 28, "dx": 36, "dy": 11, "color": "#000"},
    "encoding": {
      "x": {"field": "m", "type": "quantitative", "scale": {"type": "log", "domain": [0.1, 1000], "nice": false}, "axis": null},
      "y": {"field": "sigma", "type": "quantitative", "scale": {"type": "log", "domain": [1e-46, 1e-36], "nice": false}, "axis": null},
      "text": {"field": "label"}
    }
  },
  {
    "data": {"values": [{"label": "(GeV)", "m": 2.04, "sigma": 1.18e-48}]},
    "mark": {"type": "text", "align": "left", "baseline": "alphabetic", "fontSize": 46, "dx": 76, "color": "#000"},
    "encoding": {
      "x": {"field": "m", "type": "quantitative", "scale": {"type": "log", "domain": [0.1, 1000], "nice": false}, "axis": null},
      "y": {"field": "sigma", "type": "quantitative", "scale": {"type": "log", "domain": [1e-46, 1e-36], "nice": false}, "axis": null},
      "text": {"field": "label"}
    }
  }
]
}
